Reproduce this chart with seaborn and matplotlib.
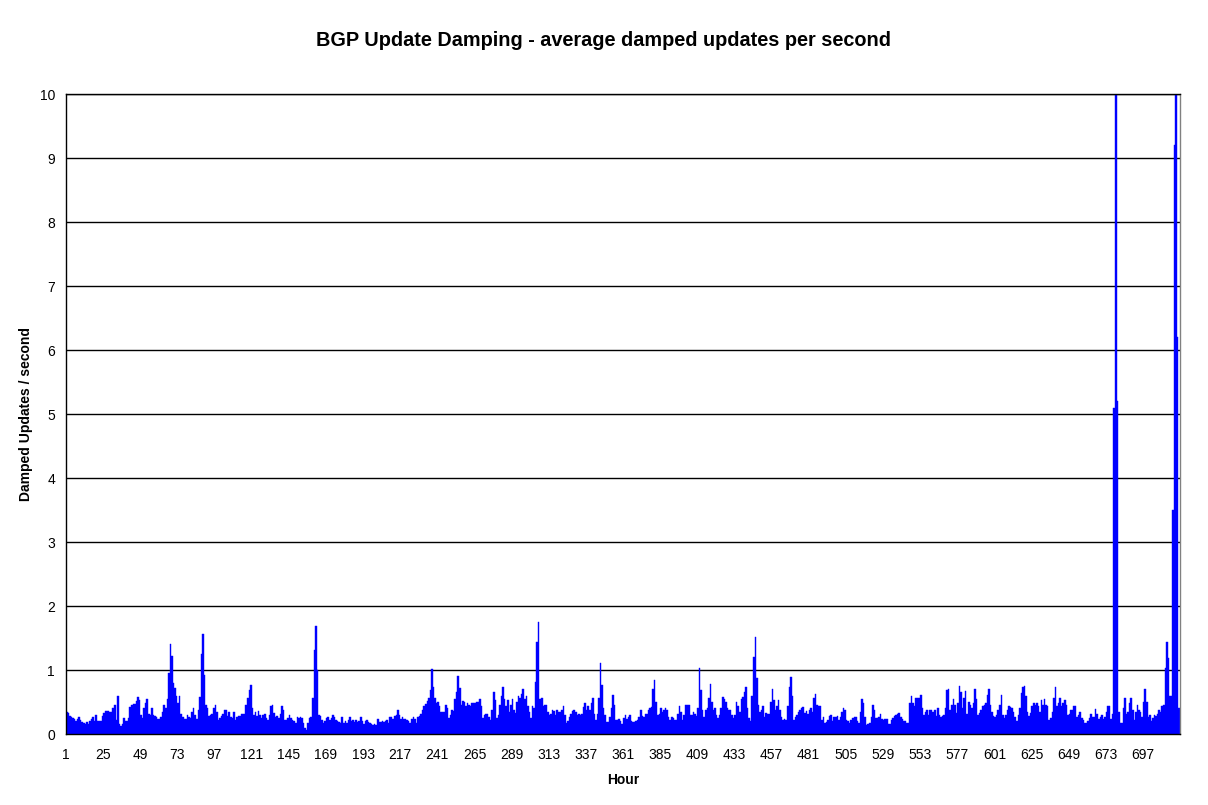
import numpy as np
import pandas as pd
import matplotlib
matplotlib.use('Agg')
import matplotlib.pyplot as plt
import seaborn as sns

# average damped updates per second, one value per hour (30 days x 24 h)
damped_rate = [
    # day 1
    0.35, 0.33, 0.28, 0.26, 0.25, 0.23, 0.21, 0.24, 0.27, 0.22, 0.18, 0.17,
    0.15, 0.18, 0.16, 0.20, 0.24, 0.27, 0.20, 0.30, 0.20, 0.20, 0.20, 0.28,
    # day 2
    0.33, 0.36, 0.36, 0.36, 0.34, 0.34, 0.40, 0.46, 0.22, 0.59, 0.15, 0.12,
    0.15, 0.25, 0.20, 0.20, 0.25, 0.42, 0.46, 0.47, 0.47, 0.52, 0.58, 0.53,
    # day 3
    0.30, 0.25, 0.40, 0.48, 0.54, 0.32, 0.30, 0.40, 0.30, 0.28, 0.26, 0.24,
    0.24, 0.27, 0.35, 0.45, 0.40, 0.55, 0.95, 1.41, 1.22, 0.80, 0.72, 0.60,
    # day 4
    0.48, 0.60, 0.32, 0.26, 0.24, 0.24, 0.30, 0.26, 0.25, 0.35, 0.40, 0.30,
    0.24, 0.38, 0.58, 1.25, 1.56, 0.92, 0.45, 0.40, 0.28, 0.30, 0.32, 0.40,
    # day 5
    0.45, 0.35, 0.22, 0.25, 0.28, 0.32, 0.37, 0.37, 0.28, 0.35, 0.27, 0.25,
    0.35, 0.22, 0.27, 0.28, 0.28, 0.32, 0.31, 0.31, 0.45, 0.56, 0.69, 0.77,
    # day 6
    0.40, 0.29, 0.35, 0.28, 0.36, 0.30, 0.25, 0.30, 0.32, 0.25, 0.22, 0.30,
    0.43, 0.45, 0.33, 0.27, 0.28, 0.25, 0.32, 0.43, 0.37, 0.22, 0.22, 0.25,
    # day 7
    0.30, 0.25, 0.22, 0.20, 0.17, 0.26, 0.25, 0.27, 0.25, 0.17, 0.10, 0.07,
    0.17, 0.25, 0.27, 0.56, 1.31, 1.69, 1.00, 0.30, 0.28, 0.22, 0.17, 0.20,
    # day 8
    0.25, 0.26, 0.22, 0.25, 0.29, 0.27, 0.22, 0.20, 0.18, 0.17, 0.26, 0.17,
    0.20, 0.17, 0.22, 0.26, 0.20, 0.22, 0.19, 0.22, 0.18, 0.20, 0.26, 0.20,
    # day 9
    0.15, 0.20, 0.22, 0.18, 0.17, 0.15, 0.14, 0.16, 0.14, 0.24, 0.19, 0.18,
    0.20, 0.19, 0.21, 0.22, 0.17, 0.27, 0.26, 0.24, 0.28, 0.30, 0.37, 0.30,
    # day 10
    0.24, 0.26, 0.24, 0.23, 0.22, 0.20, 0.17, 0.24, 0.26, 0.23, 0.17, 0.26,
    0.28, 0.32, 0.37, 0.43, 0.47, 0.52, 0.57, 0.69, 1.01, 0.74, 0.57, 0.48,
    # day 11
    0.50, 0.43, 0.35, 0.35, 0.35, 0.45, 0.40, 0.25, 0.30, 0.38, 0.36, 0.54,
    0.66, 0.90, 0.72, 0.45, 0.52, 0.50, 0.43, 0.48, 0.46, 0.44, 0.48, 0.49,
    # day 12
    0.49, 0.50, 0.50, 0.54, 0.43, 0.25, 0.30, 0.31, 0.31, 0.27, 0.22, 0.38,
    0.66, 0.53, 0.25, 0.30, 0.45, 0.60, 0.74, 0.55, 0.43, 0.53, 0.35, 0.45,
    # day 13
    0.55, 0.38, 0.33, 0.50, 0.60, 0.57, 0.62, 0.70, 0.55, 0.60, 0.43, 0.35,
    0.25, 0.43, 0.40, 0.82, 1.44, 1.75, 0.55, 0.57, 0.43, 0.45, 0.45, 0.35,
    # day 14
    0.30, 0.32, 0.37, 0.36, 0.30, 0.37, 0.35, 0.35, 0.37, 0.43, 0.30, 0.17,
    0.20, 0.27, 0.32, 0.36, 0.38, 0.35, 0.30, 0.32, 0.29, 0.32, 0.42, 0.48,
    # day 15
    0.38, 0.43, 0.37, 0.48, 0.57, 0.32, 0.22, 0.32, 0.56, 1.11, 0.77, 0.40,
    0.30, 0.19, 0.18, 0.27, 0.40, 0.61, 0.45, 0.22, 0.22, 0.23, 0.20, 0.16,
    # day 16
    0.25, 0.30, 0.24, 0.27, 0.30, 0.20, 0.18, 0.18, 0.20, 0.22, 0.27, 0.38,
    0.28, 0.26, 0.32, 0.31, 0.38, 0.40, 0.42, 0.71, 0.85, 0.50, 0.30, 0.32,
    # day 17
    0.40, 0.35, 0.37, 0.40, 0.37, 0.27, 0.22, 0.27, 0.25, 0.22, 0.22, 0.32,
    0.43, 0.35, 0.22, 0.30, 0.45, 0.46, 0.46, 0.30, 0.30, 0.35, 0.32, 0.28,
    # day 18
    0.40, 1.03, 0.68, 0.38, 0.27, 0.38, 0.40, 0.56, 0.78, 0.50, 0.38, 0.40,
    0.30, 0.25, 0.30, 0.40, 0.58, 0.55, 0.50, 0.40, 0.38, 0.37, 0.30, 0.25,
    # day 19
    0.30, 0.50, 0.43, 0.35, 0.55, 0.58, 0.65, 0.73, 0.40, 0.25, 0.20, 0.59,
    1.21, 1.52, 0.87, 0.45, 0.35, 0.38, 0.43, 0.27, 0.33, 0.32, 0.32, 0.50,
    # day 20
    0.70, 0.53, 0.37, 0.43, 0.53, 0.37, 0.27, 0.22, 0.24, 0.22, 0.43, 0.74,
    0.89, 0.60, 0.22, 0.27, 0.30, 0.35, 0.37, 0.40, 0.42, 0.33, 0.36, 0.32,
    # day 21
    0.38, 0.40, 0.35, 0.56, 0.62, 0.45, 0.43, 0.43, 0.22, 0.27, 0.17, 0.18,
    0.22, 0.28, 0.30, 0.20, 0.27, 0.27, 0.28, 0.22, 0.27, 0.35, 0.40, 0.37,
    # day 22
    0.22, 0.20, 0.17, 0.22, 0.25, 0.27, 0.26, 0.20, 0.17, 0.35, 0.54, 0.48,
    0.27, 0.14, 0.15, 0.17, 0.27, 0.45, 0.37, 0.25, 0.25, 0.27, 0.31, 0.23,
    # day 23
    0.22, 0.23, 0.24, 0.15, 0.16, 0.22, 0.25, 0.28, 0.30, 0.32, 0.33, 0.26,
    0.24, 0.21, 0.21, 0.17, 0.17, 0.48, 0.59, 0.48, 0.43, 0.56, 0.57, 0.56,
    # day 24
    0.61, 0.40, 0.30, 0.35, 0.38, 0.30, 0.37, 0.37, 0.35, 0.38, 0.28, 0.40,
    0.30, 0.27, 0.28, 0.30, 0.40, 0.68, 0.70, 0.37, 0.45, 0.54, 0.45, 0.33,
    # day 25
    0.48, 0.75, 0.65, 0.40, 0.57, 0.67, 0.32, 0.50, 0.45, 0.40, 0.48, 0.70,
    0.55, 0.30, 0.33, 0.38, 0.43, 0.45, 0.48, 0.61, 0.70, 0.45, 0.35, 0.28,
    # day 26
    0.27, 0.30, 0.37, 0.45, 0.61, 0.30, 0.25, 0.30, 0.37, 0.43, 0.42, 0.40,
    0.35, 0.27, 0.20, 0.30, 0.40, 0.64, 0.73, 0.75, 0.60, 0.35, 0.28, 0.33,
    # day 27
    0.43, 0.48, 0.45, 0.48, 0.43, 0.35, 0.53, 0.45, 0.54, 0.45, 0.43, 0.22,
    0.25, 0.35, 0.57, 0.74, 0.43, 0.49, 0.56, 0.43, 0.49, 0.53, 0.45, 0.30,
    # day 28
    0.32, 0.37, 0.38, 0.44, 0.44, 0.27, 0.30, 0.35, 0.25, 0.22, 0.17, 0.17,
    0.20, 0.25, 0.32, 0.27, 0.26, 0.39, 0.31, 0.23, 0.26, 0.30, 0.23, 0.26,
    # day 29
    0.35, 0.43, 0.43, 0.23, 0.32, 5.10, 12.0, 5.20, 0.35, 0.17, 0.17, 0.40,
    0.57, 0.32, 0.35, 0.48, 0.56, 0.37, 0.22, 0.35, 0.45, 0.38, 0.35, 0.27,
    # day 30
    0.50, 0.71, 0.50, 0.27, 0.30, 0.20, 0.25, 0.30, 0.28, 0.32, 0.37, 0.35,
    0.43, 0.45, 1.03, 1.44, 1.18, 0.60, 0.60, 3.50, 9.20, 11.0, 6.20, 0.40,
]
hours = np.arange(1, len(damped_rate) + 1)
tick_hours = np.arange(1, len(damped_rate), 24)

df = pd.DataFrame({'Hour': hours, 'Rate': damped_rate})

sns.set_style('white')
plt.rcParams['font.family'] = ['Liberation Sans', 'DejaVu Sans']
plt.rcParams['text.color'] = 'black'
plt.rcParams['axes.labelcolor'] = 'black'

fig = plt.figure(figsize=(12.08, 8.05), dpi=100)
ax = fig.add_axes([66 / 1208, 1 - 734 / 805, (1180 - 66) / 1208, (734 - 94) / 805])

# gridlines first so the bars sit on top of them
ax.set_axisbelow(True)
ax.yaxis.grid(True, color='black', linewidth=1)

sns.barplot(data=df, x='Hour', y='Rate', native_scale=True, width=1.0,
            color='#0000FF', saturation=1, errorbar=None,
            edgecolor='#0000FF', linewidth=0.3, ax=ax)

ax.set_xlim(0.5, len(damped_rate) + 0.5)
ax.set_ylim(0, 10)
ax.set_yticks(range(0, 11))
ax.set_xticks(tick_hours - 0.5)
ax.set_xticklabels([str(h) for h in tick_hours])

ax.tick_params(axis='both', direction='out', length=5, width=1, color='black',
               labelsize=10, labelcolor='black')
ax.tick_params(axis='x', pad=5)
ax.tick_params(axis='y', pad=3)

for side in ['left', 'bottom', 'top']:
    ax.spines[side].set_color('black')
    ax.spines[side].set_linewidth(1)
ax.spines['right'].set_color('#808080')
ax.spines['right'].set_linewidth(1)

ax.set_xlabel('Hour', fontsize=10, fontweight='bold', labelpad=8, color='black')
ax.set_ylabel('Damped Updates / second', fontsize=10, fontweight='bold', labelpad=5,
              color='black')
fig.text(0.5, 1 - 40 / 805, 'BGP Update Damping - average damped updates per second',
         ha='center', va='center', fontsize=14.3, fontweight='bold', color='black')

fig.savefig('out.png', dpi=100, facecolor='white')
